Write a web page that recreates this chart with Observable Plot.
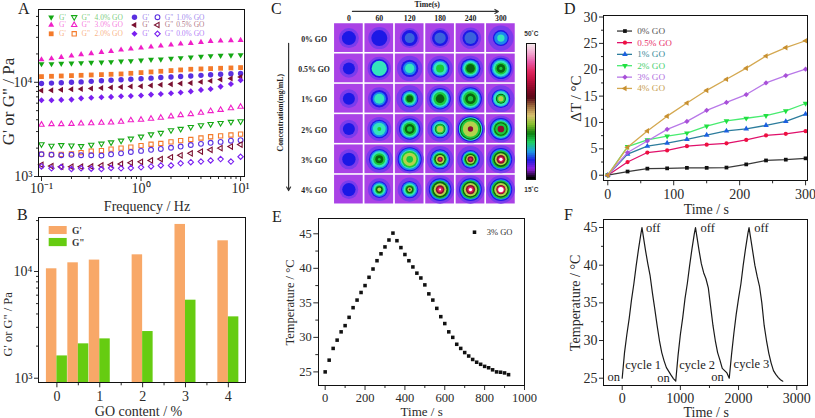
<!DOCTYPE html>
<html><head><meta charset="utf-8">
<script src="https://cdn.jsdelivr.net/npm/d3@7"></script>
<script src="https://cdn.jsdelivr.net/npm/@observablehq/plot@0.6"></script>
<style>
html,body{margin:0;padding:0;background:#fff}
#root{position:relative;width:815px;height:418px;overflow:hidden;font-family:"Liberation Serif",serif;color:#222}
.letter{position:absolute;font-size:16px;line-height:1}
.box{position:absolute;box-sizing:border-box;border:1.5px solid #111;pointer-events:none}
</style></head><body><div id="root"></div>
<script>
// ---------- Panel A data ----------
const frequency=[0.1,0.126,0.158,0.2,0.25,0.316,0.4,0.5,0.63,0.79,1,1.26,1.58,2,2.5,3.16,4,5,6.3,8,10];
const gp40=[15670,15670,15800,15930,16060,16190,16320,16460,16730,16860,17140,17420,17560,17850,18150,18450,18760,19070,19220,19380,19540];
const gp30=[17420,17850,18450,19060,19700,20180,20850,21360,22080,22630,23180,23760,24350,24950,25570,25990,26640,27300,27530,27760,27990];
const gp20=[11490,11580,11670,11770,11860,11960,12060,12160,12260,12460,12670,12880,13090,13310,13530,13750,13860,13970,14090,14200,14320];
const gp10=[9700,9800,9900,10000,10100,10230,10370,10500,10640,10780,10920,11070,11220,11370,11520,11680,11840,12000,12160,12300,12400];
const gp05=[8200,8250,8330,8420,8500,8600,8700,8800,8900,9000,9100,9250,9400,9550,9700,9850,10100,10350,10700,10950,11400];
const gp00=[6450,6450,6500,6550,6750,6850,6950,7000,7100,7150,7250,7400,7500,7650,7800,8000,8300,8500,9000,9600,10500];
const gpp40=[2200,2120,2150,2130,2100,2170,2230,2300,2400,2520,2650,2800,2900,3100,3200,3350,3500,3600,3700,3800,3850];
const gpp30=[3550,3600,3600,3620,3650,3680,3720,3750,3820,3950,4000,4100,4200,4350,4480,4600,4750,4950,5100,5300,5500];
const gpp20=[1730,1720,1720,1740,1790,1860,1880,1950,2000,2050,2130,2200,2240,2330,2400,2470,2560,2640,2700,2760,2820];
const gpp10=[1720,1700,1680,1700,1680,1680,1670,1720,1760,1820,1870,1920,1960,2020,2080,2160,2220,2280,2330,2400,2430];
const gpp05=[1330,1290,1270,1270,1270,1280,1310,1330,1360,1400,1430,1480,1530,1600,1680,1760,1840,1920,2000,2080,2180];
const gpp00=[1280,1220,1260,1200,1220,1210,1200,1230,1220,1230,1250,1280,1310,1310,1380,1420,1440,1480,1530,1440,1620];
const colorsA={"4.0":"#14a814","3.0":"#f020c8","2.0":"#f47a2a","1.0":"#5a30e0","0.5":"#7a1030","0.0":"#7a20f0"};

// ---------- Panel B data ----------
const goContent=[0,0.5,1,2,3,4];
const barGp=[10600,12060,12790,14330,27600,19390];
const barGpp=[1618,2100,2337,2738,5385,3758];

// ---------- Panel C data ----------
const cTimes=[0,60,120,180,240,300];
const cRows=["0% GO","0.5% GO","1% GO","2% GO","3% GO","4% GO"];
const levelColors={H:"#7a3cec",B:"#1c18e6",M:"#3a62dc",S:"#1c86ee",C:"#34e4bc",G:"#1cc83c",D:"#0a6410",Y:"#b4d24c",R:"#8a1030",P:"#e6205c",W:"#ffffff"};
const thermal=[
 [[["H",30],["B",21]],[["H",33],["B",24]],[["H",30],["B",24],["M",15]],[["H",30],["B",24],["M",17]],[["H",32],["B",24],["M",18]],[["H",38],["B",24],["S",20],["C",11]]],
 [[["H",28],["B",18]],[["H",35],["B",28],["C",23]],[["H",38],["B",26],["S",20],["C",14]],[["H",38],["B",28],["S",24],["C",20],["G",12]],[["H",38],["B",30],["S",26],["C",22],["G",17],["D",13]],[["H",38],["B",32],["S",28],["C",24],["G",18],["D",13],["G",5]]],
 [[["H",28],["B",18]],[["H",34],["B",26],["S",20],["C",15]],[["H",40],["B",26],["S",23],["C",19],["G",14],["D",10]],[["H",40],["B",32],["S",29],["C",25],["G",20],["D",13]],[["H",40],["B",34],["S",31],["C",27],["G",22],["D",16],["G",8]],[["H",40],["B",28],["S",25],["C",22],["D",15],["G",12],["Y",8]]],
 [[["H",28],["B",18]],[["H",36],["B",28],["S",24],["C",19],["G",6]],[["H",40],["B",32],["S",29],["C",25],["G",20],["D",15],["G",8]],[["H",38],["B",28],["S",25],["C",21],["D",16],["G",14],["Y",10]],[["H",43],["B",38],["C",35],["D",32],["G",29],["Y",23],["R",8]],[["H",40],["B",33],["S",30],["C",26],["G",23],["D",20],["G",17],["R",10]]],
 [[["H",30],["B",20]],[["H",40],["B",31],["S",28],["C",24],["G",18],["D",12],["G",4]],[["H",42],["B",36],["S",33],["C",28],["G",25],["Y",20],["G",10]],[["H",40],["B",30],["S",27],["C",23],["G",20],["D",17],["Y",13],["R",8],["P",4]],[["H",40],["B",28],["S",25],["C",22],["G",20],["D",17],["Y",13],["R",9],["P",4]],[["H",42],["B",34],["S",31],["G",27],["D",23],["Y",18],["R",13],["P",8],["W",5]]],
 [[["H",28],["B",20]],[["H",34],["B",25],["S",22],["C",18],["G",13],["D",10],["Y",6]],[["H",36],["B",26],["S",23],["C",19],["G",14],["D",11],["Y",7],["R",3]],[["H",42],["B",34],["S",31],["G",27],["D",24],["Y",19],["R",13],["P",8],["W",3]],[["H",42],["B",34],["S",31],["G",28],["D",24],["Y",20],["R",14],["P",9],["W",5]],[["H",42],["B",34],["S",31],["G",28],["D",24],["Y",20],["R",14],["P",11],["W",8]]]
];
const thermalScale=["#f5e6ea","#f2a8d0","#e85aa8","#e02860","#c01040","#8a0a28","#5a0a18","#a07040","#d8c070","#88c030","#108010","#20d060","#20a0e0","#2020e0","#9020e0","#000000"];

// ---------- Panel D data ----------
const tD=[0,30,60,90,120,150,180,210,240,270,300];
const d00=[0,0.7,1.25,1.3,1.4,1.4,1.45,2.05,2.8,2.95,3.2];
const d05=[0,2.5,4.3,4.7,5.5,5.8,6.05,6.7,7.55,7.85,8.35];
const d10=[0,4,5.5,6.1,6.8,7.6,8.4,8.8,9.45,10.2,11.6];
const d20=[0,5.4,6.7,7.4,8,9.3,10.3,10.8,11.3,12.2,13.6];
const d30=[0,4.3,6.5,8.7,10.2,12.3,13.8,15.3,17.5,18.9,20.1];
const d40=[0,5.3,8.4,11.2,13.7,16.1,18.2,20.3,22.6,24.2,25.5];

// ---------- Panel E data ----------
const tE=[0,20,40,60,80,100,120,140,160,180,200,220,240,260,280,300,320,340,360,380,400,420,440,460,480,500,520,540,560,580,600,620,640,660,680,700,720,740,760,780,800,820,840,860,880,900,920];
const tempE=[25,26.7,28.4,29.6,30.8,31.7,32.9,34.3,35.4,36.5,37.5,38.7,39.9,41.1,42.1,43.1,44.1,45.1,44,43,42,41.1,40.2,39.3,38.6,37.6,36.3,35.4,34.2,33,32,30.8,30,29,28.4,27.8,27.3,26.8,26.4,26.1,25.8,25.6,25.3,25,24.95,24.85,24.6];

// ---------- Panel F data ----------
const tF=[0,40,80,120,160,200,240,280,320,340,360,400,440,480,520,560,600,640,680,720,760,800,840,880,920,960,1000,1040,1080,1120,1160,1200,1240,1260,1280,1320,1360,1400,1440,1480,1520,1560,1600,1640,1680,1720,1760,1800,1840,1880,1920,1960,2000,2040,2080,2120,2160,2180,2200,2240,2280,2320,2360,2400,2440,2480,2520,2560,2600,2640,2680,2720,2760];
const tempF=[25,28.4,30.8,32.9,35.4,37.5,39.9,42.1,44.1,45,44,42,40.2,38.6,36.3,34.2,32,30,28.4,27.3,26.4,25.9,25.4,24.95,24.6,28,30.8,33,35.6,37.6,40,42.2,44.2,45,44,42,40.2,39,38.2,37,34.5,32,30,28.4,27.4,26.3,26,25.7,25,28.2,31,33.5,35.6,37.5,40,42.2,44.2,45,44,42,40,38.5,37.2,35,32,30,28.3,27,26,25.5,25.1,24.8,24.6];
const offLabels=[532,1471,2393];
const onLabels=[[-144,25.1],[710,25.0],[1640,25.1]];
const cycleLabels=[[361,26.75,"cycle 1"],[1289,26.75,"cycle 2"],[2222,26.9,"cycle 3"]];

// ---------- helpers ----------
const root=document.getElementById("root");
const INK="#2a2a2a";
const triUp={draw(c,s){const y=Math.sqrt(s/(Math.sqrt(3)*3));c.moveTo(0,-2*y);c.lineTo(Math.sqrt(3)*y,y);c.lineTo(-Math.sqrt(3)*y,y);c.closePath();}};
const triDown={draw(c,s){const y=Math.sqrt(s/(Math.sqrt(3)*3));c.moveTo(0,2*y);c.lineTo(Math.sqrt(3)*y,-y);c.lineTo(-Math.sqrt(3)*y,-y);c.closePath();}};
const triLeft={draw(c,s){const y=Math.sqrt(s/(Math.sqrt(3)*3));c.moveTo(-2*y,0);c.lineTo(y,Math.sqrt(3)*y);c.lineTo(y,-Math.sqrt(3)*y);c.closePath();}};
const diamond={draw(c,s){const y=Math.sqrt(s/2);c.moveTo(0,-y);c.lineTo(y,0);c.lineTo(0,y);c.lineTo(-y,0);c.closePath();}};
const sup={"-1":"10⁻¹","0":"10⁰","1":"10¹","3":"10³","4":"10⁴"};
const logFmt=d=>sup[Math.round(Math.log10(d))];

function put(opts,px){
  const svg=Plot.plot({...opts,style:{background:"transparent",fontFamily:'"Liberation Serif",serif',fontSize:"13px",color:INK,maxWidth:"none",overflow:"visible"}});
  svg.style.position="absolute";svg.style.left=px[0]+"px";svg.style.top=px[1]+"px";
  svg.style.width=opts.width+"px";svg.style.height=opts.height+"px";
  root.appendChild(svg);
  if(opts.box){
    const b=document.createElement("div");b.className="box";
    b.style.left=(px[0]+opts.marginLeft-0.7)+"px";b.style.top=(px[1]+opts.marginTop-0.7)+"px";
    b.style.width=(opts.width-opts.marginLeft-opts.marginRight+1.4)+"px";
    b.style.height=(opts.height-opts.marginTop-opts.marginBottom+1.4)+"px";
    root.appendChild(b);
  }
  return svg;
}
function axes(o){
  return [
    Plot.axisX({ticks:o.xMinor,tickSize:3,text:null,label:null,stroke:INK,strokeWidth:1}),
    Plot.axisY({ticks:o.yMinor,tickSize:3,text:null,label:null,stroke:INK,strokeWidth:1}),
    Plot.axisX({ticks:o.xTicks,tickSize:5,tickPadding:o.xPad??3,tickFormat:o.xFmt??(d=>String(d)),label:null,fontSize:o.fs??14,stroke:INK,strokeWidth:1,color:INK}),
    Plot.axisY({ticks:o.yTicks,tickSize:5,tickPadding:o.yPad??2,tickFormat:o.yFmt??(d=>String(d)),label:null,fontSize:o.fs??14,stroke:INK,strokeWidth:1,color:INK}),
    Plot.text([o.xLabel],{text:d=>d,frameAnchor:"bottom",dx:o.xDx??0,dy:o.xDy,fontSize:o.xFs??14,fill:INK,lineAnchor:"bottom"}),
    Plot.text([o.yLabel],{text:d=>d,frameAnchor:"left",dx:o.yDx,dy:o.yDy??0,rotate:-90,textAnchor:"middle",fontSize:o.yFs??15,fill:INK})
  ];
}
function letter(t,x,y){const d=document.createElement("div");d.className="letter";d.textContent=t;d.style.left=x+"px";d.style.top=y+"px";root.appendChild(d);}

// ---------- Panel A ----------
const seriesA=[
 {go:"4.0",gp:gp40,gpp:gpp40,sym:triDown,k:.82},{go:"3.0",gp:gp30,gpp:gpp30,sym:triUp,k:.82},{go:"2.0",gp:gp20,gpp:gpp20,sym:"square",k:1},
 {go:"1.0",gp:gp10,gpp:gpp10,sym:"circle",k:1},{go:"0.5",gp:gp05,gpp:gpp05,sym:triLeft,k:.82},{go:"0.0",gp:gp00,gpp:gpp00,sym:diamond,k:.9}];
const marksA=[];
for(const s of seriesA){
  const c=colorsA[s.go];
  marksA.push(Plot.dot(frequency.map((f,i)=>({f,v:s.gp[i]})),{x:"f",y:"v",symbol:s.sym,r:2.7*s.k,fill:c,stroke:"none"}));
  marksA.push(Plot.dot(frequency.map((f,i)=>({f,v:s.gpp[i]})),{x:"f",y:"v",symbol:s.sym,r:2.4*s.k,fill:"none",stroke:c,strokeWidth:1.1}));
}
const legendRowY=[6.7,14.5,23.3];
seriesA.forEach((s,i)=>{
  const col=i<3?0:1, row=i%3, dy=legendRowY[row], c=colorsA[s.go];
  const ox=col===0?0:83.3;
  marksA.push(Plot.dot([0],{frameAnchor:"top-left",dx:11.7+ox,dy,symbol:s.sym,r:2.7*s.k,fill:c,stroke:"none"}));
  marksA.push(Plot.dot([0],{frameAnchor:"top-left",dx:34.7+ox,dy,symbol:s.sym,r:2.4*s.k,fill:"none",stroke:c,strokeWidth:1.1}));
  marksA.push(Plot.text(["G'"],{text:d=>d,frameAnchor:"top-left",dx:19.5+ox,dy,fontSize:7.5,fill:c,fillOpacity:.6,lineAnchor:"middle",textAnchor:"start"}));
  marksA.push(Plot.text(['G"'],{text:d=>d,frameAnchor:"top-left",dx:42+ox,dy,fontSize:7.5,fill:c,fillOpacity:.6,lineAnchor:"middle",textAnchor:"start"}));
  marksA.push(Plot.text([s.go+"% GO"],{text:d=>d,frameAnchor:"top-left",dx:(col?136.7-83.3:55)+ox,dy,fontSize:7.5,fill:c,fillOpacity:.6,textAnchor:"start",lineAnchor:"middle"}));
});
put({box:true,width:262,height:215,marginLeft:39,marginRight:18,marginTop:10,marginBottom:39,
  x:{type:"log",domain:[0.0955,10.95]},y:{type:"log",domain:[1000,57800]},
  marks:[...marksA,...axes({xTicks:[.1,1,10],xFmt:logFmt,yTicks:[1000,10000],yFmt:logFmt,
    xMinor:[.2,.3,.4,.5,.6,.7,.8,.9,2,3,4,5,6,7,8,9],yMinor:[2000,3000,4000,5000,6000,7000,8000,9000,20000,30000,40000,50000],
    xLabel:"Frequency / Hz",xDy:34,xDx:5,yLabel:'G\' or G" / Pa',yDx:-31,yDy:8,yFs:17,xPad:2})]},[0,0]);

// ---------- Panel B ----------
const BW=0.245;
const BAR_BASE=906;
const legendB=[{t:"G'",c:"#f8a868",top:26400,bot:22200},{t:'G"',c:"#66cc11",top:20400,bot:17100}];
const barRows=goContent.flatMap((g,i)=>[{x1:g-BW,x2:g,v:barGp[i],c:"#f8a868"},{x1:g,x2:g+BW,v:barGpp[i],c:"#66cc11"}]);
put({box:true,width:262,height:213,marginLeft:39,marginRight:17,marginTop:12.3,marginBottom:35.7,
  x:{domain:[-0.406,4.4]},y:{type:"log",domain:[BAR_BASE,31850]},color:{type:"identity"},
  marks:[
    Plot.rect(barRows,{x1:"x1",x2:"x2",y1:()=>BAR_BASE,y2:"v",fill:"c"}),
    Plot.rect(legendB,{x1:()=>-0.18,x2:()=>0.24,y1:"bot",y2:"top",fill:"c"}),
    Plot.text(legendB,{x:()=>0.35,y:d=>Math.sqrt(d.top*d.bot),text:"t",fontSize:9.5,fontWeight:"bold",fill:"#333",textAnchor:"start"}),
    ...axes({xTicks:[0,1,2,3,4],yTicks:[1000,10000],yFmt:logFmt,
    xMinor:[0.5,1.5,2.5,3.5],yMinor:[2000,3000,4000,5000,6000,7000,8000,9000,20000,30000],
    xLabel:"GO content / %",xDy:33,xDx:-4,yLabel:'G\' or G" / Pa',yDx:-32,yDy:24,yFs:12.5,xPad:3})]},[0,205]);

// ---------- Panel C ----------
const HX=28.3,HY=0.474;
const cells=[],rings=[];
thermal.forEach((row,r)=>row.forEach((cell,c)=>{
  cells.push({t:cTimes[c],row:r});
  for(const [level,radius] of cell) rings.push({t:cTimes[c],row:r,level,radius});
}));
const arrowTime=[{x1:7,x2:295,y1:-0.88,y2:-0.88}];
const arrowConc=[{x1:-119,x2:-119,y1:0.17,y2:5.03}];
const svgC=put({width:255,height:207,marginLeft:0,marginRight:0,marginTop:0,marginBottom:0,
  x:{domain:[-164.6,338.7],axis:null},y:{domain:[5.59,-1.241],axis:null},r:{type:"linear",domain:[0,43],range:[0,14.35]},color:{type:"identity"},
  marks:[
    Plot.rect(cells,{x1:d=>d.t-HX,x2:d=>d.t+HX,y1:d=>d.row-HY,y2:d=>d.row+HY,fill:"#aa42e6"}),
    Plot.dot(rings,{x:"t",y:"row",r:"radius",fill:d=>levelColors[d.level],stroke:"none"}),
    Plot.text(cTimes,{x:d=>d,y:()=>-0.65,text:d=>String(d),fontWeight:"bold",fontSize:7.8,fill:"#222"}),
    Plot.text(cRows,{x:()=>-68.7,y:(d,i)=>i,dy:1,text:d=>d,fontWeight:"bold",fontSize:7.8,fill:"#222"}),
    Plot.text(["Time(s)"],{x:()=>154.5,y:()=>-1.11,text:d=>d,fontWeight:"bold",fontSize:7.8,fill:"#222"}),
    Plot.text(["Concentration(mg/mL)"],{x:()=>-135,y:()=>2.46,text:d=>d,rotate:-90,fontWeight:"bold",fontSize:7.8,fill:"#222"}),
    Plot.arrow(arrowTime,{x1:"x1",x2:"x2",y1:"y1",y2:"y2",stroke:"#333",strokeWidth:1.2,headLength:5}),
    Plot.arrow(arrowConc,{x1:"x1",x2:"x2",y1:"y1",y2:"y2",stroke:"#333",strokeWidth:1.2,headLength:5})
  ]},[265,0]);
const dg=svgC.querySelector('g[aria-label="dot"]');if(dg)dg.style.filter="blur(0.5px)";

// ---------- Colour bar ----------
const barColors=d3.quantize(d3.piecewise(d3.interpolateRgb,thermalScale),68);
const span=(50-15)/barColors.length;
const barCells=barColors.map((c,i)=>({y2:50-i*span,y1:50-(i+1)*span,c}));
put({box:true,width:30,height:170,marginLeft:11.7,marginRight:10,marginTop:13.3,marginBottom:21,
  x:{domain:[0,1],axis:null},y:{domain:[15,50],axis:null},color:{type:"identity"},
  marks:[
    Plot.rect(barCells,{x1:()=>0,x2:()=>1,y1:"y1",y2:"y2",fill:"c",inset:-0.2}),
    Plot.text(["50˚C"],{x:()=>0.5,y:()=>50,dy:-10,text:d=>d,fontSize:6.5,fontWeight:"bold",fill:"#333",fontFamily:"Liberation Sans"}),
    Plot.text(["15˚C"],{x:()=>0.5,y:()=>15,dy:10,text:d=>d,fontSize:6.5,fontWeight:"bold",fill:"#333",fontFamily:"Liberation Sans"})
  ]},[515,30]);

// ---------- Panel D ----------
const seriesD=[
 {name:"0% GO",v:d00,ly:27.34,line:"#3a3a3a",mark:"#111",text:"#555",sym:"square"},
 {name:"0.5% GO",v:d05,ly:25.14,line:"#e0106a",mark:"#ee1040",text:"#e8306a",sym:"circle"},
 {name:"1% GO",v:d10,ly:22.92,line:"#2c7c9c",mark:"#1c60e0",text:"#3a8a9a",sym:triUp},
 {name:"2% GO",v:d20,ly:20.77,line:"#48ec70",mark:"#20e040",text:"#48d070",sym:triDown},
 {name:"3% GO",v:d30,ly:18.6,line:"#b878e8",mark:"#a850d8",text:"#b070e0",sym:diamond},
 {name:"4% GO",v:d40,ly:16.46,line:"#d4a850",mark:"#c89030",text:"#c8a050",sym:triLeft}];
const marksD=seriesD.flatMap(s=>{
  const rows=tD.map((t,i)=>({t,v:s.v[i]}));
  return [Plot.line(rows,{x:"t",y:"v",stroke:s.line,strokeWidth:1.3}),Plot.dot(rows,{x:"t",y:"v",symbol:s.sym,r:2.1,fill:s.mark,stroke:"none"})];
});
seriesD.forEach(s=>{
  marksD.push(Plot.ruleY([s.ly],{x1:()=>14.7,x2:()=>37.5,stroke:s.line,strokeWidth:1.3}));
  marksD.push(Plot.dot([s.ly],{x:()=>26,y:d=>d,symbol:s.sym,r:2.1,fill:s.mark,stroke:"none"}));
  marksD.push(Plot.text([s.ly],{x:()=>44.7,y:d=>d,text:()=>s.name,fontSize:9.2,fill:s.text,textAnchor:"start"}));
});
put({box:true,width:235,height:215,marginLeft:24,marginRight:7.3,marginTop:16,marginBottom:34.7,
  x:{domain:[-5,304]},y:{domain:[-1.06,30.1]},
  marks:[...marksD,...axes({xTicks:[0,100,200,300],yTicks:[0,5,10,15,20,25,30],
    xMinor:[50,150,250],yMinor:[2.5,7.5,12.5,17.5,22.5,27.5],
    xLabel:"Time / s",xDy:33,yLabel:"ΔT / °C",yDx:-28,xPad:3})]},[580,0]);

// ---------- Panel E ----------
const rowsE=tE.map((t,i)=>({t,v:tempE[i]}));
put({box:true,width:275,height:213,marginLeft:53.3,marginRight:16,marginTop:14,marginBottom:33,
  x:{domain:[-32,1000]},y:{domain:[23.03,47.07]},
  marks:[
    Plot.dot(rowsE,{x:"t",y:"v",symbol:"square",r:2,fill:"#111",stroke:"none"}),
    Plot.dot([0],{frameAnchor:"top-right",dx:-50,dy:12.7,symbol:"square",r:2,fill:"#111",stroke:"none"}),
    Plot.text(["3% GO"],{text:d=>d,frameAnchor:"top-right",dx:-12,dy:12.7,fontSize:8.5,fill:"#333",lineAnchor:"middle",textAnchor:"end"}),
    ...axes({xTicks:[0,200,400,600,800,1000],yTicks:[25,30,35,40,45],xMinor:[100,300,500,700,900],yMinor:[27.5,32.5,37.5,42.5],
    xLabel:"Time / s",xDy:30,yLabel:"Temperature / °C",yDx:-29,xPad:3,xFs:13,yFs:12.5,fs:12.5})]},[265,205]);

// ---------- Panel F ----------
const rowsF=tF.map((t,i)=>({t,v:tempF[i]}));
put({box:true,width:235,height:213,marginLeft:24,marginRight:7.7,marginTop:14.7,marginBottom:33,
  x:{domain:[-304,3190]},y:{domain:[24.03,45.97]},
  marks:[
    Plot.line(rowsF,{x:"t",y:"v",stroke:"#1a1a1a",strokeWidth:1.2}),
    Plot.text(offLabels,{x:d=>d,y:()=>45,text:()=>"off",fontSize:12.5,fill:"#222"}),
    Plot.text(onLabels,{x:d=>d[0],y:d=>d[1],text:()=>"on",fontSize:12.5,fill:"#222"}),
    Plot.text(cycleLabels,{x:d=>d[0],y:d=>d[1],text:d=>d[2],fontSize:12.5,fill:"#222"}),
    ...axes({xTicks:[0,1000,2000,3000],yTicks:[25,30,35,40,45],xMinor:[500,1500,2500],yMinor:[27.5,32.5,37.5,42.5],
    xLabel:"Time / s",xDy:31,yLabel:"Temperature / °C",yDx:-29,xPad:3,xFs:14,yFs:14})]},[580,205]);

// ---------- Panel letters ----------
letter("A",18,1);letter("B",17,207);letter("C",271,1);letter("D",564,1);letter("E",272,209);letter("F",564,207);
</script></body></html>
